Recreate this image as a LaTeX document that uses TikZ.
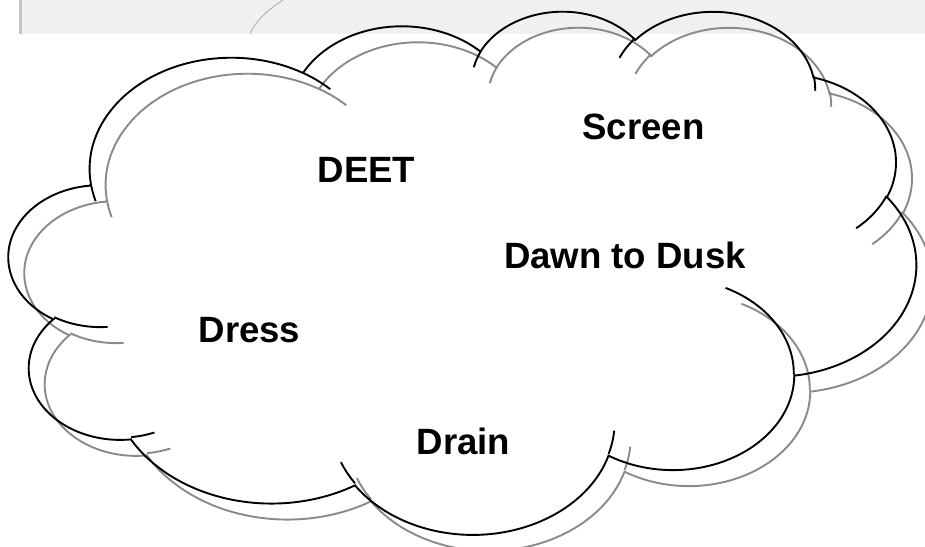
\documentclass[tikz,border=0pt]{standalone}
\usepackage{fontspec}
\setmainfont{Liberation Sans}
\definecolor{cloudgray}{HTML}{8A8A8A}
\definecolor{stripfill}{HTML}{F0F0F0}
\definecolor{stripedge}{HTML}{C4C4C4}
\definecolor{stripcurve}{HTML}{A8A8A8}
% arc of an ellipse given with "visual" angles (DrawingML style), radii in xy units
\newcommand{\cloudarc}[4]{arc[x radius=#1, y radius=#2, start angle={atan2(#1*sin(#3),#2*cos(#3))}, delta angle={mod(atan2(#1*sin(#3+#4),#2*cos(#3+#4))-atan2(#1*sin(#3),#2*cos(#3))+720,360)}]}
\newcommand{\cloudshape}{%
 (39.00,143.70) \cloudarc{67.53}{91.90}{-190.4875}{123.7805}
 \cloudarc{53.33}{72.67}{-144.1024}{89.9452}
 \cloudarc{43.65}{59.45}{-145.8079}{99.7230}
 \cloudarc{48.57}{65.95}{-130.9861}{117.2417}
 \cloudarc{53.33}{72.73}{-78.7089}{109.0269}
 \cloudarc{67.75}{92.20}{-46.2673}{130.2690}
 \cloudarc{57.85}{78.67}{0.6250}{114.0333}
 \cloudarc{67.52}{92.15}{22.4516}{115.1726}
 \cloudarc{77.20}{105.43}{66.2426}{75.7110}
 \cloudarc{43.60}{59.18}{-274.9421}{146.7356}
 \cloudarc{43.45}{59.45}{-246.8285}{152.5189} -- cycle
 (46.93,261.77) \cloudarc{43.45}{59.45}{86.7420}{26.4295}
 (69.28,348.99) \cloudarc{43.60}{59.18}{73.6105}{11.4475}
 (164.78,390.90) \cloudarc{67.52}{92.15}{137.6242}{14.0811}
 (288.27,347.51) \cloudarc{67.52}{92.15}{6.4533}{15.9984}
 (341.29,229.54) \cloudarc{57.85}{78.67}{-70.2924}{70.9174}
 (417.98,153.54) \cloudarc{53.33}{72.73}{30.3180}{27.7501}
 (383.24,54.26) \cloudarc{48.57}{65.95}{-13.7443}{14.8547}
 (290.78,39.52) \cloudarc{48.57}{65.95}{-149.1815}{18.1954}
 (221.41,47.20) \cloudarc{43.65}{59.45}{-163.4943}{17.6864}
 (140.00,51.92) \cloudarc{67.53}{91.90}{-66.7070}{12.3194}
 (41.27,157.89) \cloudarc{67.53}{91.90}{157.6544}{11.8582}}
\tikzset{
  cloudline/.style={draw=black, line width=1.9pt},
  shadowline/.style={draw=cloudgray, line width=1.9pt},
  lbl/.style={font=\bfseries\fontsize{36.6}{40}\selectfont, anchor=base, inner sep=0pt},
}
\begin{document}
\begin{tikzpicture}[x=1pt, y=-1pt]
  \useasboundingbox (0,0) rectangle (925,546);
  \fill[white] (0,0) rectangle (925,546);
  % background strip at the top
  \fill[stripfill] (19,0) rectangle (925,33.5);
  \fill[stripedge] (19,0) rectangle (22,33.5);
  \draw[stripcurve, line width=0.8pt] (283,0) .. controls (266,11) and (256,21) .. (250,33.5);
  % shadow cloud
  \begin{scope}[shift={(25,26)}, x=2.0995pt, y=-1.2106pt]
    \path[shadowline] \cloudshape;
  \end{scope}
  % main cloud
  \begin{scope}[shift={(9,10)}, x=2.0995pt, y=-1.2106pt]
    \path[cloudline] \cloudshape;
  \end{scope}
  % labels
  \node[lbl] (screen) at (643.5,139) {Screen};
  \node[lbl] (deet)   at (366.5,182) {DEET};
  \node[lbl] (dawn)   at (625,268)   {Dawn to Dusk};
  \node[lbl] (dress)  at (249.5,342) {Dress};
  \node[lbl] (drain)  at (463.5,454) {Drain};
\end{tikzpicture}
\end{document}
